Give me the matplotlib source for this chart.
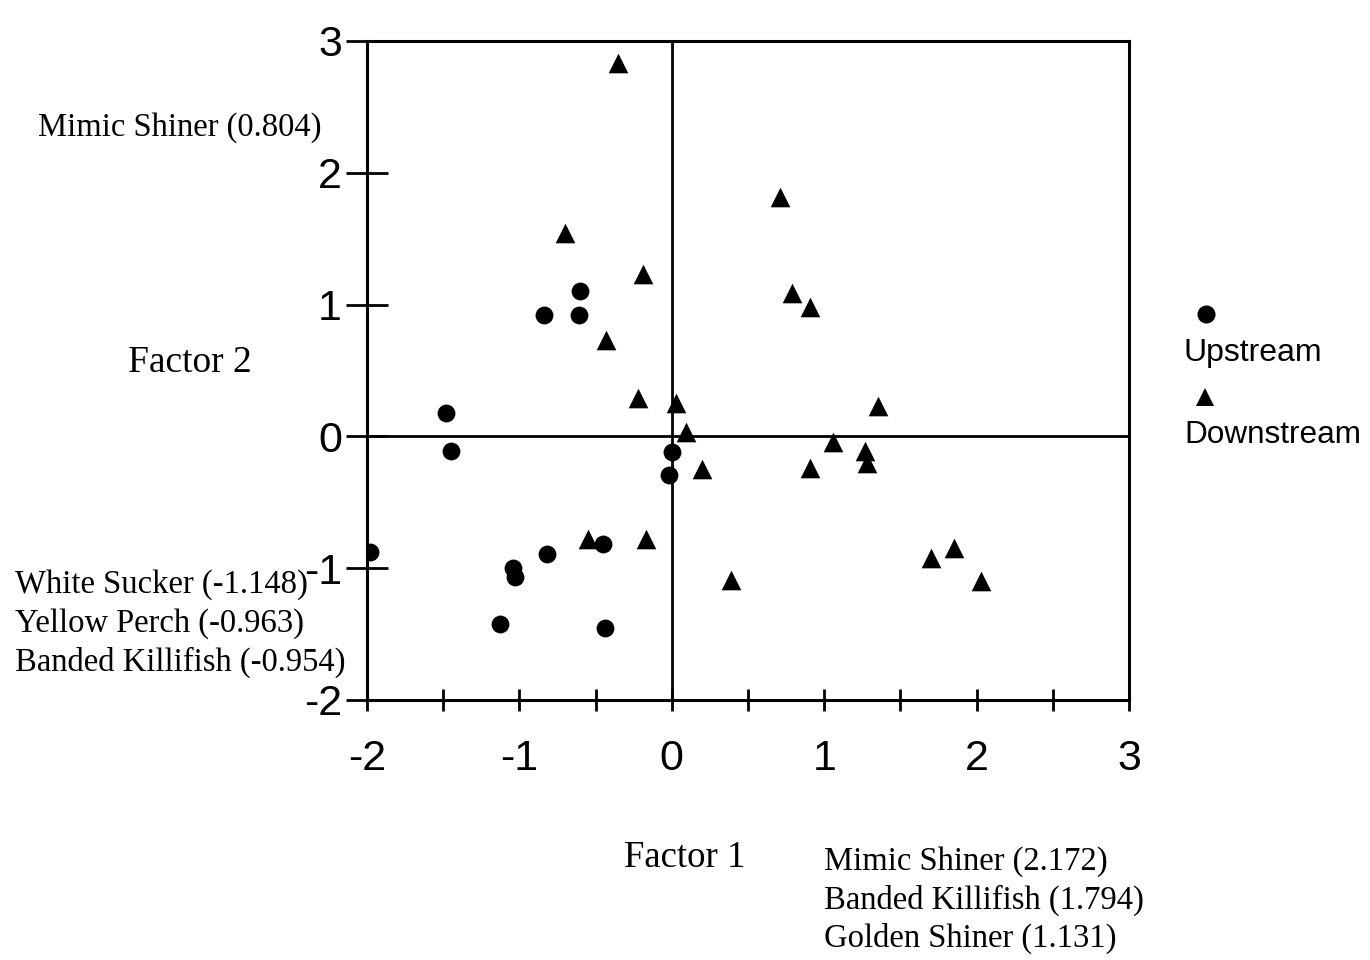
import matplotlib
matplotlib.use("Agg")
import matplotlib.pyplot as plt
from matplotlib.lines import Line2D
from matplotlib.ticker import MultipleLocator

# Factor scores
up_x = [-0.60, -0.84, -0.61, -1.48, -1.45, 0.00, -0.02, -1.98, -0.45, -0.82, -1.04, -1.03, -1.13, -0.44]
up_y = [1.10, 0.92, 0.92, 0.18, -0.11, -0.12, -0.29, -0.88, -0.82, -0.89, -1.00, -1.07, -1.42, -1.45]

down_x = [-0.35, -0.70, -0.19, -0.43, -0.22, 0.03, 0.09, 0.20, -0.55, -0.17, 0.39,
          0.71, 0.79, 0.91, 1.35, 1.06, 0.91, 1.27, 1.28, 1.70, 1.85, 2.03]
down_y = [2.83, 1.54, 1.23, 0.73, 0.29, 0.25, 0.03, -0.25, -0.78, -0.78, -1.09,
          1.82, 1.09, 0.98, 0.23, -0.04, -0.24, -0.11, -0.20, -0.92, -0.85, -1.10]

x_ticks = [-2, -1, 0, 1, 2, 3]
y_ticks = [-2, -1, 0, 1, 2, 3]

x_label = "Factor 1"
y_label = "Factor 2"
x_loadings = ["Mimic Shiner (2.172)", "Banded Killifish (1.794)", "Golden Shiner (1.131)"]
y_pos_loadings = ["Mimic Shiner (0.804)"]
y_neg_loadings = ["White Sucker (-1.148)", "Yellow Perch (-0.963)", "Banded Killifish (-0.954)"]
legend_labels = ["Upstream", "Downstream"]

W, H = 1370, 960
fig = plt.figure(figsize=(W / 100, H / 100), dpi=100)
fig.patch.set_facecolor("white")

def fx(px):
    return px / W

def fy(py):
    return 1 - py / H

ax = fig.add_axes([fx(367), fy(700), fx(1129) - fx(367), fy(41) - fy(700)])
ax.set_xlim(-2, 3)
ax.set_ylim(-2, 3)

ax.axhline(0, color="black", lw=2, zorder=1)
ax.axvline(0, color="black", lw=2, zorder=1)

ax.scatter(up_x, up_y, marker="o", s=165, color="black", zorder=3, linewidths=0)
ax.scatter(down_x, down_y, marker="^", s=200, color="black", zorder=3, linewidths=0)

for sp in ax.spines.values():
    sp.set_linewidth(2.2)
    sp.set_color("black")

sans = "Liberation Sans"
serif = "Liberation Serif"

ax.set_xticks(x_ticks)
ax.set_yticks(y_ticks)
ax.set_xticklabels([str(t) for t in x_ticks], fontsize=31, family=sans)
ax.set_yticklabels([str(t) for t in y_ticks], fontsize=31, family=sans)
ax.xaxis.set_minor_locator(MultipleLocator(0.5))
ax.tick_params(axis="x", which="both", direction="inout", length=16, width=2, pad=20)
ax.tick_params(axis="y", which="major", direction="inout", length=30, width=2, pad=3)
ax.tick_params(axis="y", which="minor", length=0)

# Axis titles and loading annotations
fig.text(fx(128), fy(363), y_label, family=serif, fontsize=27, va="center", ha="left")
fig.text(fx(624), fy(858), x_label, family=serif, fontsize=26.5, va="center", ha="left")
fig.text(fx(38), fy(128), y_pos_loadings[0], family=serif, fontsize=23.5, va="center", ha="left")
for i, t in enumerate(y_neg_loadings):
    fig.text(fx(15), fy(585 + 38.5 * i), t, family=serif, fontsize=23.5, va="center", ha="left")
for i, t in enumerate(x_loadings):
    fig.text(fx(824), fy(862 + 38 * i), t, family=serif, fontsize=23.5, va="center", ha="left")

# Legend: marker above label
fig.add_artist(Line2D([fx(1206)], [fy(314)], marker="o", markersize=13, color="black",
                      markeredgewidth=0, transform=fig.transFigure))
fig.text(fx(1184), fy(353), legend_labels[0], family=sans, fontsize=23, va="center", ha="left")
fig.add_artist(Line2D([fx(1205)], [fy(397)], marker="^", markersize=13, color="black",
                      markeredgewidth=0, transform=fig.transFigure))
fig.text(fx(1184), fy(435), legend_labels[1], family=sans, fontsize=22.7, va="center", ha="left")

fig.savefig("out.png", dpi=100, facecolor="white")
